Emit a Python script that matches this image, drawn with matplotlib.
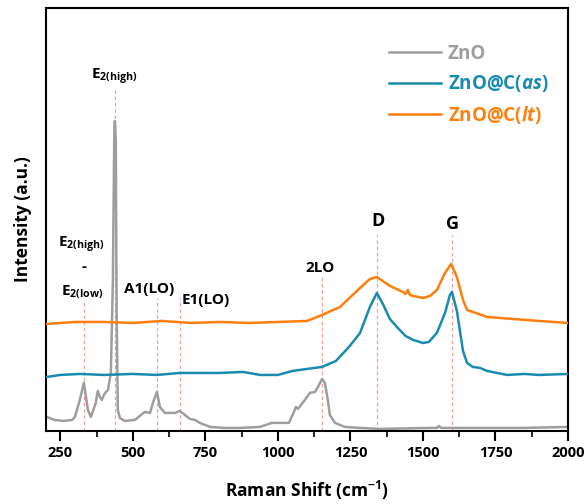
import matplotlib
matplotlib.use("Agg")
import matplotlib.pyplot as plt
from matplotlib.ticker import MultipleLocator

# Raman shift (cm-1) / intensity (a.u.)
zno_x = [203, 230, 260, 290, 300, 317, 331, 345, 355, 365, 372, 379, 386, 393, 400,
         407, 414, 424, 431, 436, 438, 441, 444, 448, 455, 472, 507, 541, 559, 569,
         583, 593, 610, 645, 662, 679, 697, 714, 731, 766, 817, 869, 938, 979, 1007,
         1038, 1055, 1062, 1069, 1093, 1110, 1128, 1138, 1152, 1162, 1172, 1179, 1197,
         1231, 1283, 1352, 1524, 1548, 1555, 1562, 1700, 1850, 2000]
zno_y = [14, 11, 10, 11, 14, 31, 48, 21, 14, 22, 28, 40, 34, 31, 36,
         39, 41, 58, 150, 300, 310, 290, 120, 21, 13, 10, 11, 19, 18, 28,
         39, 24, 18, 18, 20, 16, 12, 11, 8, 4, 3, 3, 4, 8, 8,
         8, 19, 24, 22, 31, 38, 39, 44, 52, 48, 31, 16, 8,
         4, 3, 2, 3, 3, 5, 3, 3, 3, 4]

as_x = [203, 250, 317, 400, 500, 583, 662, 700, 800, 880, 938, 1000, 1050, 1100,
        1152, 1200, 1248, 1283, 1317, 1341, 1360, 1386, 1410, 1440, 1466, 1500, 1520,
        1548, 1576, 1593, 1600, 1617, 1638, 1652, 1672, 1697, 1721, 1790, 1850, 1900, 2000]
as_y = [54, 56, 57, 56, 57, 56, 58, 58, 58, 59, 56, 56, 60, 62,
        64, 70, 85, 98, 124, 138, 128, 112, 104, 95, 91, 88, 89,
        98, 118, 136, 139, 120, 80, 68, 64, 63, 60, 56, 57, 56, 57]

lt_x = [203, 300, 400, 500, 600, 700, 800, 900, 1000, 1100, 1152, 1214, 1283, 1317,
        1341, 1386, 1431, 1440, 1448, 1455, 1466, 1500, 1524, 1548, 1576, 1597, 1617,
        1638, 1652, 1672, 1721, 1810, 1900, 2000]
lt_y = [107, 109, 109, 108, 110, 108, 109, 108, 109, 110, 116, 124, 143, 152,
        154, 145, 139, 137, 141, 136, 135, 133, 135, 141, 158, 167, 154,
        131, 121, 119, 114, 112, 110, 108]

# mode positions and top of their dashed markers
peak_pos = [331, 438, 583, 662, 1152, 1341, 1600]
peak_top = [131, 341, 133, 133, 156, 196, 196]

FONT = 'Open Sans'
plt.rcParams['font.family'] = FONT
plt.rcParams['font.weight'] = 'bold'
plt.rcParams['mathtext.fontset'] = 'custom'
plt.rcParams['mathtext.rm'] = FONT + ':bold'
plt.rcParams['mathtext.it'] = FONT + ':bold:italic'
plt.rcParams['mathtext.bf'] = FONT + ':bold'

fig = plt.figure(figsize=(5.88, 5.04), dpi=100)
ax = fig.add_axes([0.078, 0.145, 0.888, 0.839])

ax.vlines(peak_pos, 0, peak_top, colors='#f4a0a0', linestyles=(0, (3, 2)), linewidth=0.9, zorder=1)

ax.plot(zno_x, zno_y, color='#9e9e9e', lw=1.8, label='ZnO', zorder=2)
ax.plot(as_x, as_y, color='#1a8bb0', lw=1.8, label='ZnO@C($\\mathit{as}$)', zorder=3)
ax.plot(lt_x, lt_y, color='#ff7f0e', lw=1.8, label='ZnO@C($\\mathit{lt}$)', zorder=3)

fs = 11
ax.text(438, 354, 'E$_{\\mathrm{2(high)}}$', ha='center', va='center', fontsize=fs)
ax.text(324, 186, 'E$_{\\mathrm{2(high)}}$', ha='center', va='center', fontsize=fs)
ax.text(331, 164, '-', ha='center', va='center', fontsize=fs)
ax.text(324, 139, 'E$_{\\mathrm{2(low)}}$', ha='center', va='center', fontsize=fs)
ax.text(555, 142, 'A1(LO)', ha='center', va='center', fontsize=fs)
ax.text(668, 131, 'E1(LO)', ha='left', va='center', fontsize=fs)
ax.text(1145, 163, '2LO', ha='center', va='center', fontsize=fs)
ax.text(1345, 210, 'D', ha='center', va='center', fontsize=13)
ax.text(1603, 207, 'G', ha='center', va='center', fontsize=13)

leg = ax.legend(loc='upper right', bbox_to_anchor=(0.995, 0.955), frameon=False,
                labelcolor='linecolor', handlelength=2.8, handletextpad=0.35,
                labelspacing=0.5, prop={'family': FONT, 'weight': 'bold', 'size': 13.5})

ax.set_xlim(200, 2000)
ax.set_ylim(0, 423)
ax.set_yticks([])
ax.xaxis.set_major_locator(MultipleLocator(250))
ax.xaxis.set_minor_locator(MultipleLocator(125))
ax.tick_params(axis='x', which='major', direction='out', length=7, width=1.5, labelsize=10.5)
ax.tick_params(axis='x', which='minor', direction='out', length=4, width=1.2)
for s in ax.spines.values():
    s.set_linewidth(1.5)

ax.set_xlabel('Raman Shift (cm$^{\\mathrm{-1}}$)', fontsize=12.5, fontweight='bold', labelpad=14)
ax.set_ylabel('Intensity (a.u.)', fontsize=12.5, fontweight='bold', labelpad=10)

fig.savefig('out.png', dpi=100)
